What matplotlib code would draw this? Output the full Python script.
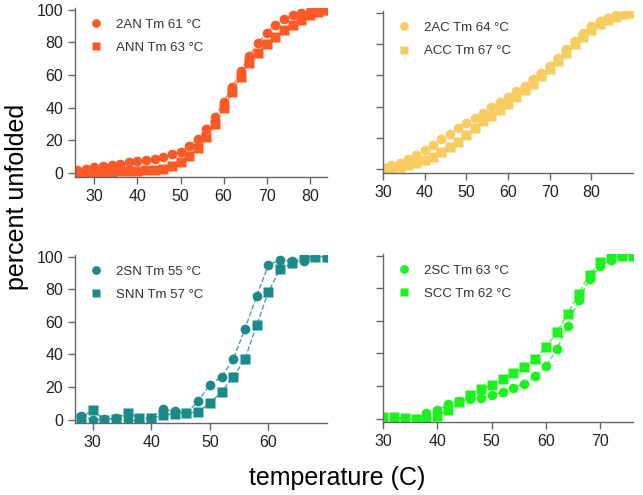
import numpy as np
import matplotlib
matplotlib.use("Agg")
import matplotlib.pyplot as plt

plt.rcParams['font.family'] = ['Liberation Sans', 'DejaVu Sans']

# top left: AN
t_an = [26, 28, 30, 32, 34, 36, 38, 40, 42, 44, 46, 48, 50, 52, 54, 56, 58, 60,
        62, 64, 66, 68, 70, 72, 74, 76, 78, 80, 82, 84]
y_2an = [1.6, 2.7, 3.7, 4.3, 5.1, 5.7, 6.4, 7.2, 7.8, 8.6, 9.8, 11.3, 12.9, 16.4,
         21, 27, 34.4, 43.6, 52.5, 62.7, 71.7, 79.5, 85.7, 90.8, 94.3, 96.5, 98,
         99, 99.6, 100]
y_ann = [0, 0, 0.4, 0.6, 0.8, 1, 1.2, 1.4, 1.6, 2, 2.7, 4.3, 6.8, 10.2, 15, 21.7,
         29.7, 39.5, 49.8, 59, 67.2, 73.4, 79, 83, 87.3, 90.8, 93.9, 96.5, 98.4, 100]

# top right: AC
t_ac = [30, 32, 34, 36, 38, 40, 42, 44, 46, 48, 50, 52, 54, 56, 58, 60, 62, 64,
        66, 68, 70, 72, 74, 76, 78, 80, 82, 84, 86, 88, 90]
y_2ac = [1, 2.8, 4.3, 6.4, 9.2, 12.4, 15.6, 19.2, 22.6, 26.3, 29.5, 32.7, 35.9,
         39.5, 43, 46.2, 49.8, 53.4, 57.3, 61.5, 66.2, 71.2, 76.5, 81.8, 87.2,
         91.5, 94.7, 96.8, 98.5, 99.4, 100]
y_acc = [0.4, 1, 1.7, 2.8, 4.3, 6, 8.1, 10.9, 13.9, 17.7, 22, 26.3, 30.6, 34.2,
         38, 41.9, 46.2, 50.4, 54.7, 59.4, 64.1, 69, 74.4, 79.7, 84.6, 88.9,
         92.5, 95.3, 97.4, 98.9, 100]

# bottom left: SN
t_sn = [28, 30, 32, 34, 36, 38, 40, 42, 44, 46, 48, 50, 52, 54, 56, 58, 60, 62,
        64, 66, 68, 70]
y_2sn = [2.5, 0, 0.4, 0.8, -0.4, -0.6, 1, 6.6, 5.2, 4.1, 11.3, 21.6, 26.2, 37.1,
         55.7, 75.9, 94.8, 97.9, 97.3, 97.3, 100, 100]
y_snn = [1, 6.2, 0, 0.6, 4.1, 1, 1, 2.7, 3.7, 4.1, 4.7, 10.3, 16.9, 26.4, 37.1,
         58.1, 78.4, 92.2, 95.9, 100, 100, 100]

# bottom right: SC
t_sc = [30, 32, 34, 36, 38, 40, 42, 44, 46, 48, 50, 52, 54, 56, 58, 60, 62, 64,
        66, 68, 70, 72, 74, 76]
y_2sc = [0, 0, 0, 0, 3.3, 5.3, 8.8, 10.8, 12.2, 12.9, 14.5, 16.3, 19, 21.6, 26.1,
         32.2, 42.9, 57.1, 72.7, 85.7, 93.5, 97.6, 99.6, 100]
y_scc = [1, 1, 0.4, 0, -0.8, 1.6, 5.3, 10.4, 14.5, 18, 20.6, 24.1, 27.8, 31.8,
         36.9, 44.1, 53.1, 64.5, 76.5, 88.4, 95.9, 99.2, 100, 100]

panels = [
    # rect, t, circles, squares, labels, color, xlim, xticks, ylim, show ylabels
    ([75/643, 1-177/495, 252/643, 169/495], t_an, y_2an, y_ann,
     ('2AN Tm 61 °C', 'ANN Tm 63 °C'), '#fb5a27', (25.5, 84), [30, 40, 50, 60, 70, 80], (-2.5, 101), True),
    ([383/643, 1-173/495, 250/643, 162/495], t_ac, y_2ac, y_acc,
     ('2AC Tm 64 °C', 'ACC Tm 67 °C'), '#f7cd62', (30, 90), [30, 40, 50, 60, 70, 80], (-2.4, 101), False),
    ([75/643, 1-423/495, 252/643, 168/495], t_sn, y_2sn, y_snn,
     ('2SN Tm 55 °C', 'SNN Tm 57 °C'), '#1b8b89', (27, 70), [30, 40, 50, 60], (-2, 101), True),
    ([383/643, 1-422/495, 250/643, 168/495], t_sc, y_2sc, y_scc,
     ('2SC Tm 63 °C', 'SCC Tm 62 °C'), '#1ff01f', (30, 76), [30, 40, 50, 60, 70], (-2, 101), False),
]

fig = plt.figure(figsize=(6.43, 4.95), dpi=100)

for rect, t, yc, ys, labs, col, xl, xt, yl, showy in panels:
    ax = fig.add_axes(rect)
    ax.plot(t, yc, ls='--', lw=1, color=col, alpha=0.8, zorder=1)
    ax.plot(t, ys, ls='--', lw=1, color=col, alpha=0.8, zorder=1)
    ax.plot(t, yc, 'o', ms=7, color=col, mec='none', label=labs[0], zorder=2)
    ax.plot(t, ys, 's', ms=7, color=col, mec='none', label=labs[1], zorder=2)
    ax.set_xlim(*xl)
    ax.set_ylim(*yl)
    ax.set_xticks(xt)
    ax.set_yticks([0, 20, 40, 60, 80, 100])
    for s in ['top', 'right']:
        ax.spines[s].set_visible(False)
    for s in ['left', 'bottom']:
        ax.spines[s].set_color('#666666')
        ax.spines[s].set_linewidth(1)
    ax.tick_params(colors='#666666', labelcolor='#222222', labelsize=11.5,
                   length=5, width=1)
    if not showy:
        ax.set_yticklabels([])
    leg = ax.legend(loc='upper left', bbox_to_anchor=(0, 1.025), frameon=False,
                    fontsize=9.5, handletextpad=1.0, labelspacing=0.85,
                    borderaxespad=0.7, handlelength=1.0, markerscale=0.9)
    for txt in leg.get_texts():
        txt.set_color('#333333')

fig.text(0.525, 0.035, 'temperature (C)', ha='center', va='center', fontsize=18)
fig.text(0.026, 0.602, 'percent unfolded', ha='center', va='center',
         rotation=90, fontsize=18)

fig.savefig('out.png', dpi=100)
